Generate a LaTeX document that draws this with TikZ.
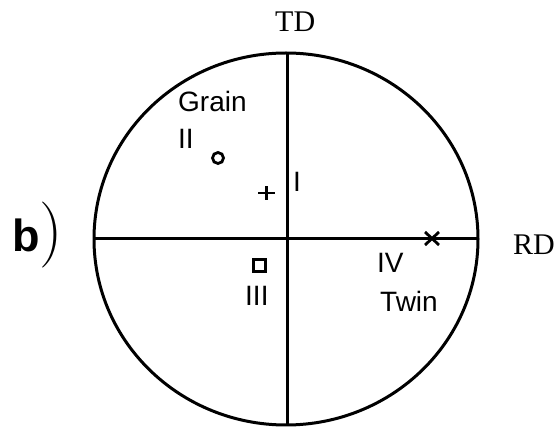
\documentclass[tikz,border=0pt]{standalone}
\usepackage{fontspec}
\setmainfont{Liberation Serif}
\newfontfamily\lsans{Liberation Sans}
\newfontfamily\lsansb{Liberation Sans Bold}
\newfontfamily\lmparen{Latin Modern Roman}
\begin{document}
\begin{tikzpicture}[x=1pt,y=-1pt,
  axis/.style={line width=3pt},
  markline/.style={line width=2.8pt},
  axlabel/.style={anchor=base west,inner sep=0pt,font=\fontsize{30}{30}\selectfont},
  lab/.style={anchor=base west,inner sep=0pt,font=\lsans\fontsize{28}{28}\selectfont}]
\useasboundingbox (0,0) rectangle (560,427);
\coordinate (C) at (286,239);
\draw[axis] (C) ellipse [x radius=192, y radius=186];
\coordinate (L) at (94,239);
\coordinate (R) at (478,239);
\coordinate (T) at (287,53);
\coordinate (B) at (287,425);
\draw[axis] (L) -- (R);
\draw[axis] (T) -- (B);
% labels
\node[axlabel] (td) at (275,32) {TD};
\node[axlabel] (rd) at (513,255) {RD};
\node[anchor=base west,inner sep=0pt] (b) at (12,252)
  {{\lsansb\fontsize{45}{45}\selectfont b}{\lmparen\fontsize{66}{66}\selectfont )}};
\node[lab] (grain) at (178,112) {Grain};
\node[lab] (ii) at (178,149) {II};
\node[lab] (i) at (293,192) {I};
\node[lab] (iii) at (245,306) {III};
\node[lab] (iv) at (377,273) {IV};
\node[lab] (twin) at (380,312) {Twin};
% markers
\coordinate (m2) at (218,158);
\draw[markline] (m2) circle [radius=5.5];
\coordinate (m1) at (266.5,193);
\draw[markline] ([xshift=-8.5]m1) -- ([xshift=8.5]m1);
\draw[markline] ([yshift=-7]m1) -- ([yshift=7]m1);
\coordinate (m3) at (259.5,265.5);
\draw[markline] ([xshift=-6.3,yshift=-6.3]m3) rectangle ([xshift=6.3,yshift=6.3]m3);
\coordinate (m4) at (432,238.5);
\draw[markline] ([xshift=-7,yshift=-6.5]m4) -- ([xshift=7,yshift=6.5]m4);
\draw[markline] ([xshift=-7,yshift=6.5]m4) -- ([xshift=7,yshift=-6.5]m4);
\end{tikzpicture}
\end{document}
